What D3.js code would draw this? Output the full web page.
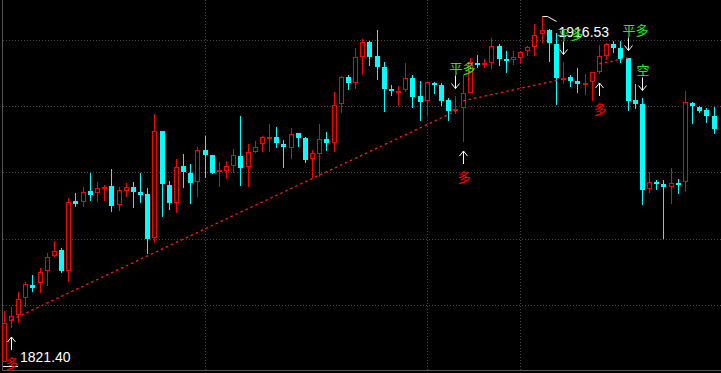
<!DOCTYPE html>
<html>
<head>
<meta charset="utf-8">
<script src="https://cdn.jsdelivr.net/npm/d3@7"></script>
<style>
  html, body { margin: 0; padding: 0; background: #000; }
  svg { display: block; }
</style>
</head>
<body>
<div id="chart"></div>
<script>
// candle data (left to right)
const opens = [1821.5, 1832.59, 1834.24, 1838.92, 1842.57, 1843.04, 1846.42, 1850.63, 1852.2, 1846.42,
  1865.67, 1865.31, 1868.42, 1867.78, 1869.52, 1869.79, 1864.49, 1868.5, 1869.43, 1868.14,
  1867.59, 1855.41, 1884.91, 1870.07, 1865.2, 1875.29, 1873.37, 1870.97, 1879.69, 1878.31,
  1874.0, 1874.0, 1875.37, 1878.04, 1875.1, 1879.22, 1881.42, 1883.13, 1883.26, 1881.34,
  1880.32, 1884.28, 1883.07, 1877.13, 1878.51, 1882.71, 1881.7, 1892.25, 1899.68, 1898.19,
  1905.34, 1909.3, 1905.53, 1902.51, 1896.46, 1895.91, 1896.19, 1899.4, 1894.54, 1893.24,
  1898.19, 1897.56, 1893.44, 1890.41, 1891.15, 1895.44, 1903.69, 1903.6, 1903.69, 1908.37,
  1904.76, 1904.43, 1905.07, 1906.99, 1908.09, 1911.5, 1912.68, 1908.83, 1899.54, 1899.68,
  1898.74, 1897.97, 1898.3, 1901.05, 1905.53, 1908.83, 1907.82, 1904.9, 1893.44, 1892.34,
  1868.97, 1870.97, 1870.34, 1869.6, 1870.56, 1870.97, 1892.53, 1891.43, 1890.69, 1889.04];
const highs = [1835.42, 1836.61, 1840.73, 1843.48, 1845.32, 1847.16, 1851.29, 1854.67, 1852.66, 1866.41,
  1867.78, 1869.6, 1873.28, 1870.97, 1870.07, 1874.38, 1869.43, 1870.53, 1870.97, 1873.45,
  1869.24, 1889.59, 1884.91, 1871.17, 1877.21, 1878.59, 1875.84, 1880.43, 1883.54, 1878.31,
  1876.39, 1876.66, 1879.88, 1889.04, 1881.34, 1882.16, 1883.54, 1886.84, 1886.01, 1882.44,
  1885.74, 1884.28, 1883.35, 1879.69, 1886.84, 1884.64, 1895.64, 1900.04, 1900.31, 1907.65,
  1910.12, 1909.74, 1912.68, 1903.88, 1897.56, 1897.37, 1903.69, 1900.31, 1898.66, 1898.74,
  1898.47, 1898.03, 1893.99, 1894.54, 1900.31, 1904.98, 1905.81, 1904.71, 1910.56, 1908.75,
  1906.91, 1906.91, 1906.91, 1908.28, 1914.33, 1916.53, 1912.96, 1911.77, 1903.97, 1900.31,
  1902.15, 1900.58, 1901.05, 1908.56, 1909.19, 1909.66, 1909.66, 1904.9, 1897.84, 1893.9,
  1873.56, 1871.44, 1871.44, 1874.66, 1871.72, 1895.91, 1892.8, 1891.79, 1891.15, 1891.43];
const lows = [1821.40, 1830.67, 1832.21, 1836.61, 1840.73, 1840.29, 1842.38, 1850.35, 1845.79, 1843.31,
  1864.1, 1863.93, 1865.75, 1865.48, 1865.67, 1862.73, 1863.0, 1866.85, 1863.83, 1865.2,
  1851.1, 1854.2, 1861.35, 1863.19, 1862.28, 1869.32, 1864.76, 1866.85, 1872.07, 1873.09,
  1869.6, 1871.72, 1873.37, 1869.87, 1869.6, 1878.78, 1879.22, 1879.22, 1880.24, 1874.82,
  1877.3, 1880.6, 1876.2, 1872.07, 1872.35, 1879.5, 1879.22, 1889.94, 1896.19, 1896.46,
  1900.31, 1902.78, 1898.93, 1890.22, 1894.54, 1891.79, 1895.72, 1891.32, 1887.75, 1889.12,
  1895.09, 1891.79, 1887.75, 1889.5, 1881.97, 1895.3, 1902.15, 1902.32, 1901.96, 1902.87,
  1900.94, 1903.06, 1903.53, 1905.62, 1905.53, 1909.19, 1903.97, 1892.06, 1897.75, 1896.93,
  1895.44, 1894.81, 1893.24, 1900.58, 1904.43, 1906.28, 1903.53, 1890.49, 1890.96, 1864.65,
  1867.95, 1868.69, 1855.22, 1864.84, 1867.59, 1868.22, 1886.84, 1889.94, 1887.19, 1884.09];
const closes = [1832.04, 1834.05, 1838.64, 1842.76, 1841.83, 1846.06, 1850.35, 1851.84, 1846.5, 1865.48,
  1864.92, 1868.22, 1867.4, 1869.16, 1869.65, 1864.38, 1868.69, 1869.43, 1868.14, 1867.32,
  1855.22, 1884.91, 1870.42, 1865.2, 1874.93, 1873.72, 1870.7, 1879.69, 1878.31, 1873.45,
  1874.1, 1875.29, 1878.31, 1874.82, 1879.06, 1880.43, 1883.18, 1883.18, 1881.7, 1880.51,
  1884.01, 1883.07, 1877.02, 1878.78, 1882.71, 1881.7, 1891.98, 1899.68, 1898.03, 1905.18,
  1909.3, 1905.34, 1902.59, 1896.46, 1895.91, 1895.99, 1899.4, 1894.34, 1892.97, 1898.39,
  1897.84, 1893.16, 1890.41, 1890.96, 1895.28, 1903.97, 1903.53, 1903.69, 1908.28, 1904.71,
  1904.65, 1905.26, 1906.55, 1907.92, 1911.31, 1912.68, 1909.19, 1899.57, 1899.62, 1898.66,
  1897.84, 1898.05, 1901.05, 1905.53, 1908.83, 1907.82, 1904.63, 1893.24, 1892.34, 1868.69,
  1870.81, 1870.34, 1869.6, 1870.53, 1870.45, 1892.8, 1891.79, 1890.49, 1889.04, 1885.46];

// dotted trend segments: [candle index, price]
const trendLines = [
  [[1, 1833.0], [63, 1890.4]],
  [[64, 1893.2], [77, 1898.8]],
  [[83, 1903.4], [87, 1905.0]]
];

// trade signals
const signals = [
  { i: 1, text: "多", dir: "up" },
  { i: 63, text: "平多", dir: "down" },
  { i: 64, text: "多", dir: "up" },
  { i: 78, text: "平多", dir: "down" },
  { i: 83, text: "多", dir: "up" },
  { i: 87, text: "平多", dir: "down" },
  { i: 89, text: "空", dir: "down" }
];

const gridPrices = [1909.9, 1891.8, 1873.6, 1855.3, 1837.0];
const gridCandles = [28, 59, 72];

const width = 721, height = 373;
const UP = "#ff0000", DOWN = "#00ffff";

const data = opens.map(function (o, i) {
  return { i: i, o: o, h: highs[i], l: lows[i], c: closes[i] };
});

const svg = d3.select("#chart")
  .append("svg")
    .attr("width", width)
    .attr("height", height)
    .style("background", "#000");

const x = d3.scaleLinear().domain([0, data.length - 1]).range([4.3, 714.1]);
const y = d3.scaleLinear().domain([1821.40, 1916.53]).range([362, 16]);
const px = function (i) { return Math.floor(x(i)); };

// grid
svg.append("g")
  .selectAll("line")
  .data(gridPrices)
  .enter()
  .append("line")
    .attr("x1", 3).attr("x2", width)
    .attr("y1", function (d) { return Math.round(y(d)) + 0.5; })
    .attr("y2", function (d) { return Math.round(y(d)) + 0.5; })
    .attr("stroke", "#4a4a4a")
    .attr("stroke-dasharray", "1,2");

svg.append("g")
  .selectAll("line")
  .data(gridCandles)
  .enter()
  .append("line")
    .attr("x1", function (d) { return px(d) + 0.5; })
    .attr("x2", function (d) { return px(d) + 0.5; })
    .attr("y1", 0).attr("y2", 370)
    .attr("stroke", "#4a4a4a")
    .attr("stroke-dasharray", "1,2");

// frame
svg.append("line").attr("x1", 2.5).attr("x2", 2.5).attr("y1", 0).attr("y2", 371)
  .attr("stroke", "#555");
svg.append("line").attr("x1", 2).attr("x2", width).attr("y1", 370.5).attr("y2", 370.5)
  .attr("stroke", "#555");

// candles
const candles = svg.append("g")
  .selectAll("g")
  .data(data)
  .enter()
  .append("g");

candles.each(function (d) {
  const g = d3.select(this);
  const cx = px(d.i);
  const up = d.c >= d.o;
  const col = up ? UP : DOWN;
  const top = Math.round(y(Math.max(d.o, d.c)));
  const bot = Math.round(y(Math.min(d.o, d.c)));
  const hi = Math.round(y(d.h));
  const lo = Math.round(y(d.l));

  if (up && bot - top >= 2) {
    g.append("line").attr("x1", cx + 0.5).attr("x2", cx + 0.5)
      .attr("y1", hi).attr("y2", top).attr("stroke", col);
    g.append("line").attr("x1", cx + 0.5).attr("x2", cx + 0.5)
      .attr("y1", bot).attr("y2", lo).attr("stroke", col);
    g.append("rect")
      .attr("x", cx - 1.5).attr("y", top + 0.5)
      .attr("width", 4).attr("height", bot - top - 1)
      .attr("fill", "#000").attr("stroke", col);
  } else {
    g.append("line").attr("x1", cx + 0.5).attr("x2", cx + 0.5)
      .attr("y1", hi).attr("y2", lo).attr("stroke", col);
    g.append("rect")
      .attr("x", cx - 2).attr("y", top)
      .attr("width", 5).attr("height", Math.max(bot - top, 2))
      .attr("fill", col);
  }
});

// trend lines
const line = d3.line()
  .x(function (d) { return x(d[0]); })
  .y(function (d) { return y(d[1]); });

svg.append("g")
  .selectAll("path")
  .data(trendLines)
  .enter()
  .append("path")
    .attr("d", line)
    .attr("fill", "none")
    .attr("stroke", "#ff1a1a")
    .attr("stroke-width", 1.3)
    .attr("stroke-dasharray", "2.5,3");

// extreme price labels
const hiIdx = d3.maxIndex(highs), loIdx = d3.minIndex(lows);
const hx = px(hiIdx) + 0.5, hy = Math.round(y(highs[hiIdx])) + 0.5;
svg.append("path")
  .attr("d", "M" + hx + "," + hy + "h5L" + (hx + 14) + "," + (hy + 5))
  .attr("fill", "none").attr("stroke", "#fff");
svg.append("text")
  .attr("x", hx + 16).attr("y", hy + 20)
  .attr("font-family", "'Liberation Sans', Arial, sans-serif")
  .attr("font-size", 14)
  .attr("fill", "#fff")
  .text(d3.format(".2f")(highs[hiIdx]));

const lx = px(loIdx), ly = Math.round(y(lows[loIdx]));
svg.append("line")
  .attr("x1", lx - 1).attr("x2", lx + 14)
  .attr("y1", ly + 4.5).attr("y2", ly + 4.5)
  .attr("stroke", "#fff");
svg.append("text")
  .attr("x", 20).attr("y", ly)
  .attr("font-family", "'Liberation Sans', Arial, sans-serif")
  .attr("font-size", 14)
  .attr("fill", "#fff")
  .text(d3.format(".2f")(lows[loIdx]));

// signals: arrows and labels (drawn last, on top like the original)
const sig = svg.append("g")
  .selectAll("g")
  .data(signals)
  .enter()
  .append("g");

sig.each(function (s) {
  const g = d3.select(this);
  const ax = px(s.i) + 0.5;
  let tip, tail, ty;
  if (s.dir === "up") {
    tip = Math.round(y(lows[s.i])) + 9;
    tail = tip + 13;
    ty = tail + 12;
    g.append("path")
      .attr("d", "M" + ax + "," + tail + "V" + tip + "M" + (ax - 4) + "," + (tip + 5) + "L" + ax + "," + tip + "L" + (ax + 4) + "," + (tip + 5))
      .attr("fill", "none").attr("stroke", "#fff");
  } else {
    tip = Math.round(y(highs[s.i])) - 7.5;
    tail = tip - 13;
    ty = tail - 8;
    g.append("path")
      .attr("d", "M" + ax + "," + tail + "V" + tip + "M" + (ax - 4) + "," + (tip - 5) + "L" + ax + "," + tip + "L" + (ax + 4) + "," + (tip - 5))
      .attr("fill", "none").attr("stroke", "#fff");
  }
  g.append("text")
    .attr("x", ax - 6)
    .attr("y", ty)
    .attr("dominant-baseline", "central")
    .attr("font-family", "'Noto Sans CJK SC', sans-serif")
    .attr("font-size", 13)
    .attr("fill", s.text === "多" ? UP : "#22ee22")
    .text(s.text);
});
</script>
</body>
</html>
